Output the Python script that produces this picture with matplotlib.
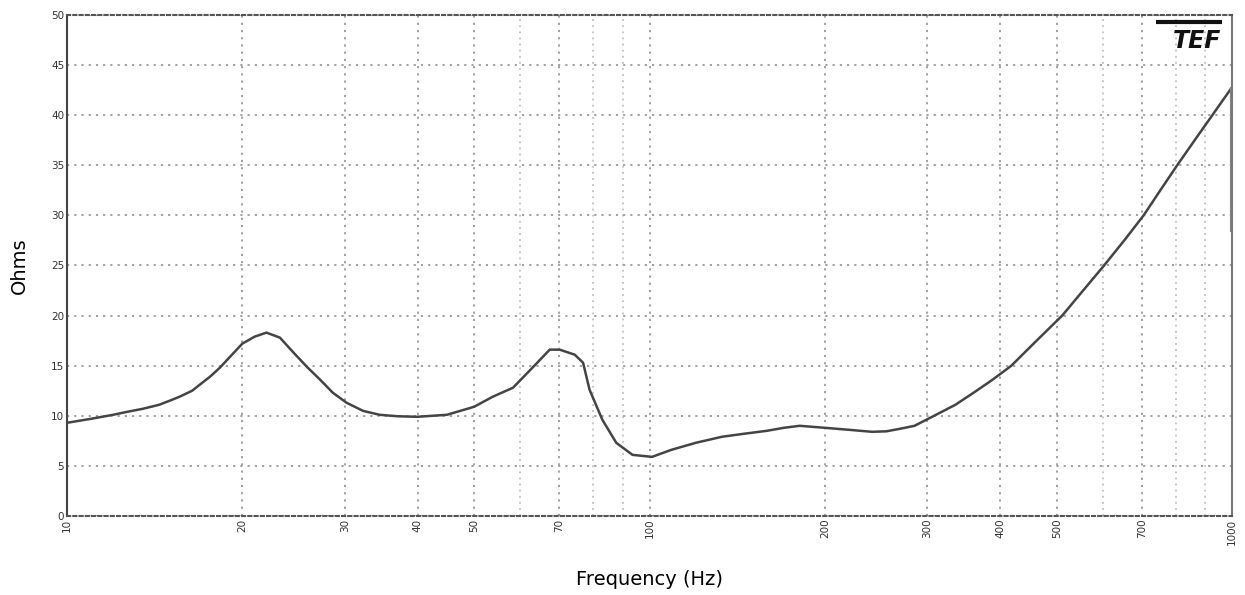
import matplotlib.pyplot as plt
import numpy as np

# --- impedance curve ---
freq = [10, 11, 12, 12.7, 13.5, 14.4, 15, 15.6, 16.4, 16.9, 17.6, 18.3, 19.2,
        20.0, 21, 22.0, 23.2, 24.4, 25.8, 27.2, 28.6, 30.2, 32.2, 34.4, 37,
        40, 44.9, 50, 53.8, 58.3, 63.2, 67.4, 70.1, 74.4, 76.9, 78.9, 83,
        87.7, 93.5, 101, 109, 120, 133, 145, 159, 170, 181, 200, 220, 241,
        255, 269, 285, 308, 335, 360, 388, 418, 460, 511, 555, 603,
        655, 705, 755, 805, 865, 925, 1000]
ohms = [9.3, 9.7, 10.1, 10.4, 10.7, 11.1, 11.5, 11.9, 12.5, 13.1, 13.9, 14.8, 16.1,
        17.2, 17.9, 18.3, 17.8, 16.4, 14.9, 13.6, 12.3, 11.3, 10.5, 10.1, 9.95,
        9.9, 10.1, 10.9, 11.9, 12.8, 14.9, 16.6, 16.6, 16.1, 15.3, 12.6, 9.6,
        7.3, 6.1, 5.9, 6.6, 7.3, 7.9, 8.2, 8.5, 8.8, 9.0, 8.8, 8.6, 8.4,
        8.45, 8.7, 9.0, 10.0, 11.1, 12.3, 13.6, 15.0, 17.4, 20.0, 22.5, 25.0,
        27.6, 30.0, 32.6, 35.0, 37.6, 40.0, 42.8]

# gray drop marker at the right edge
marker_f = 1000
marker_lo, marker_hi = 28.3, 42.8

major_ticks = [10, 20, 30, 40, 50, 70, 100, 200, 300, 400, 500, 700, 1000]
minor_ticks = [60, 80, 90, 600, 800, 900]
y_ticks = list(range(0, 51, 5))

fig = plt.figure(figsize=(12.45, 5.95), dpi=100)
ax = fig.add_axes([0.0538, 0.1328, 0.9358, 0.842])

ax.set_xscale("log")
ax.set_xlim(10, 1000)
ax.set_ylim(0, 50)

ax.set_xticks(major_ticks)
ax.set_xticklabels([str(t) for t in major_ticks], rotation=90, fontsize=7.5, color="#333333")
ax.set_xticks(minor_ticks, minor=True)
ax.set_xticklabels([], minor=True)
ax.set_yticks(y_ticks)
ax.set_yticklabels([str(t) for t in y_ticks], fontsize=7.5, color="#333333")
ax.tick_params(axis="both", which="both", length=0, pad=2)

ax.grid(True, which="major", color="#999999", linestyle=(0, (1.2, 2.8)), linewidth=1.3)
ax.grid(True, which="minor", axis="x", color="#b5b5b5", linestyle=(0, (1.2, 2.8)), linewidth=1.1)

for side in ["top", "bottom"]:
    ax.spines[side].set_linestyle((0, (1.5, 1.5)))
    ax.spines[side].set_color("#555555")
    ax.spines[side].set_linewidth(1.5)
ax.spines["left"].set_color("#444444")
ax.spines["left"].set_linewidth(1.5)
ax.spines["right"].set_color("#777777")
ax.spines["right"].set_linewidth(1.5)

ax.plot(freq, ohms, color="#444444", linewidth=1.8, solid_capstyle="round",
        solid_joinstyle="round")
ax.vlines(marker_f, marker_lo, marker_hi, color="#888888", linewidth=3)

ax.set_xlabel("Frequency (Hz)", fontsize=14, labelpad=18)
ax.set_ylabel("Ohms", fontsize=14, labelpad=16)

# TEF logo
ax.text(0.991, 0.972, "TEF", transform=ax.transAxes, ha="right", va="top",
        fontsize=17, fontweight="heavy", fontstyle="italic", color="#111111",
        family="DejaVu Sans")
ax.plot([0.935, 0.991], [0.986, 0.986], transform=ax.transAxes, color="#111111",
        linewidth=3, solid_capstyle="butt")

fig.savefig("out.png", dpi=100)
